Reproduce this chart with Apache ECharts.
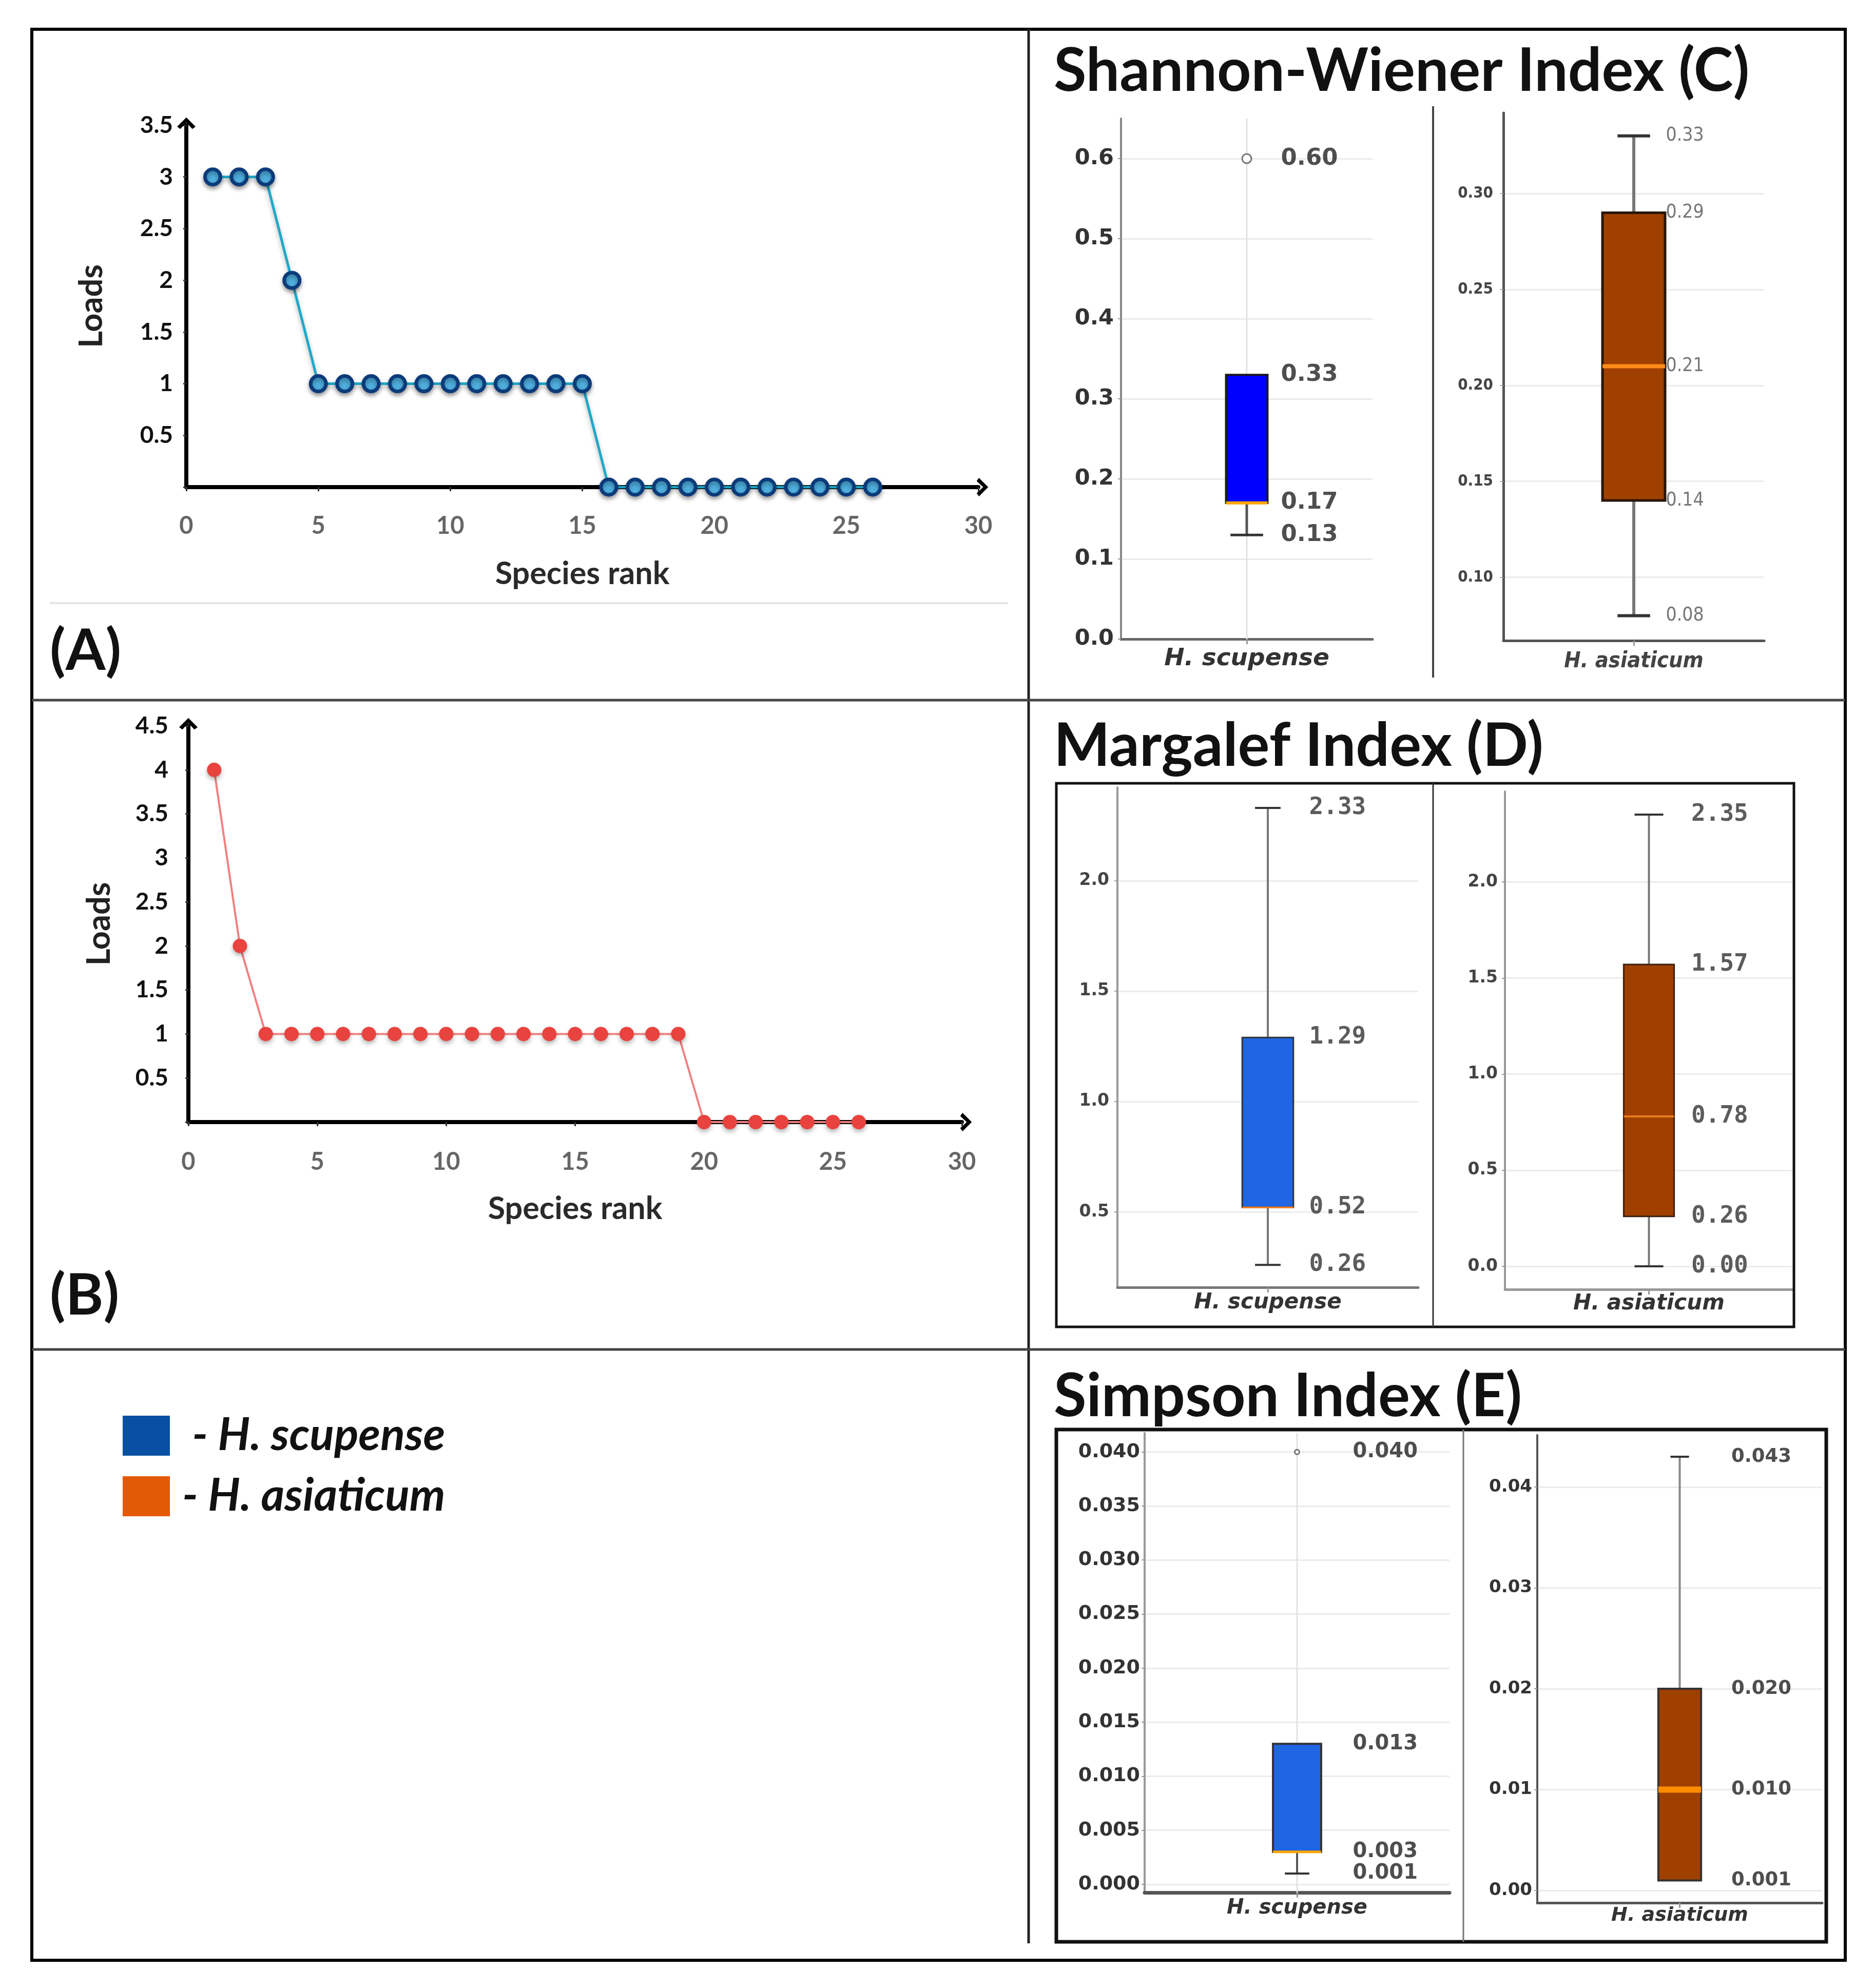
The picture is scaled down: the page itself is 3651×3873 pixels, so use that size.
<!DOCTYPE html>
<html><head><meta charset="utf-8">
<script src="https://cdn.jsdelivr.net/npm/echarts@6/dist/echarts.min.js"></script>
<style>html,body{margin:0;padding:0;background:#fff}#c{width:3651px;height:3873px}</style>
</head><body><div id="c"></div><script>
// ---------- data ----------
const rankA = [1,2,3,4,5,6,7,8,9,10,11,12,13,14,15,16,17,18,19,20,21,22,23,24,25,26];
const loadsA = [3,3,3,2,1,1,1,1,1,1,1,1,1,1,1,0,0,0,0,0,0,0,0,0,0,0];
const rankB = [1,2,3,4,5,6,7,8,9,10,11,12,13,14,15,16,17,18,19,20,21,22,23,24,25,26];
const loadsB = [4,2,1,1,1,1,1,1,1,1,1,1,1,1,1,1,1,1,1,0,0,0,0,0,0,0];
const speciesNames = ['H. scupense', 'H. asiaticum'];
// box stats: [lower whisker, Q1, median, Q3, upper whisker]
const shannonScupense = [0.13, 0.17, 0.17, 0.33, 0.33];
const shannonScupenseOutliers = [0.60];
const shannonAsiaticum = [0.08, 0.14, 0.21, 0.29, 0.33];
const margalefScupense = [0.26, 0.52, 0.52, 1.29, 2.33];
const margalefAsiaticum = [0.00, 0.26, 0.78, 1.57, 2.35];
const simpsonScupense = [0.001, 0.003, 0.003, 0.013, 0.013];
const simpsonScupenseOutliers = [0.040];
const simpsonAsiaticum = [0.001, 0.001, 0.010, 0.020, 0.043];
// annotated values
const shannonScupenseNotes = [0.60, 0.33, 0.17, 0.13];
const shannonAsiaticumNotes = [0.33, 0.29, 0.21, 0.14, 0.08];
const margalefScupenseNotes = [2.33, 1.29, 0.52, 0.26];
const margalefAsiaticumNotes = [2.35, 1.57, 0.78, 0.26, 0.00];
const simpsonScupenseNotes = [0.040, 0.013, 0.003, 0.001];
const simpsonAsiaticumNotes = [0.043, 0.020, 0.010, 0.001];
// tick labels
const shannonScupenseTicks = [0, 0.1, 0.2, 0.3, 0.4, 0.5, 0.6];
const shannonAsiaticumTicks = [0.10, 0.15, 0.20, 0.25, 0.30];
const margalefScupenseTicks = [0.5, 1.0, 1.5, 2.0];
const margalefAsiaticumTicks = [0, 0.5, 1.0, 1.5, 2.0];
const simpsonScupenseTicks = [0, 0.005, 0.010, 0.015, 0.020, 0.025, 0.030, 0.035, 0.040];
const simpsonAsiaticumTicks = [0, 0.01, 0.02, 0.03, 0.04];

// ---------- layout / style ----------
const ARROW = 'path://M10,0 L20,10 L16.5,12.5 L10,5.5 L3.5,12.5 L0,10 Z';
const DJ = 'DejaVu Sans';
const boxPanels = [
  {grid:{left:2184, top:231, width:490, height:1014}, min:0, max:0.65, ticks:shannonScupenseTicks, tickDec:1,
   stats:shannonScupense, outliers:shannonScupenseOutliers, notes:shannonScupenseNotes, noteDec:2, sp:0,
   boxFrac:0.165, capFrac:0.13, fill:'#0000ff', stroke:'#1a1a1a', strokeW:4, median:'#ffa500', medianW:6,
   whisker:'#555', whiskerW:5, vgrid:true, outR:18,
   tickFont:{fontFamily:DJ, fontWeight:'bold', fontSize:43, color:'#333'}, tickMargin:14,
   noteFont:{fontFamily:DJ, fontWeight:'bold', fontSize:45, color:'#222'}, noteDist:66,
   catFont:{fontFamily:DJ, fontWeight:'bold', fontStyle:'italic', fontSize:47, color:'#333'}, catMargin:15,
   yLine:'#888', yLineW:4, xLine:'#666', xLineW:5},
  {grid:{left:2929, top:220, width:508, height:1028}, min:0.067, max:0.342, ticks:shannonAsiaticumTicks, tickDec:2,
   stats:shannonAsiaticum, outliers:[], notes:shannonAsiaticumNotes, noteDec:2, sp:1,
   boxFrac:0.24, capFrac:0.125, fill:'#a04000', stroke:'#2a1608', strokeW:5, median:'#ff8c1a', medianW:8,
   whisker:'#777', whiskerW:6, vgrid:false, outR:0,
   tickFont:{fontFamily:'DejaVu Sans Condensed', fontWeight:'bold', fontSize:31, color:'#444'}, tickMargin:20,
   noteFont:{fontFamily:'DejaVu Sans Condensed', fontSize:37, color:'#555'}, noteDist:62,
   catFont:{fontFamily:'DejaVu Sans Condensed', fontWeight:'bold', fontStyle:'italic', fontSize:43, color:'#444'}, catMargin:19,
   yLine:'#555', yLineW:5, xLine:'#555', xLineW:5},
  {grid:{left:2177, top:1534, width:586, height:974}, min:0.158, max:2.423, ticks:margalefScupenseTicks, tickDec:1,
   stats:margalefScupense, outliers:[], notes:margalefScupenseNotes, noteDec:2, sp:0,
   boxFrac:0.17, capFrac:0.085, fill:'#1f66e5', stroke:'#333', strokeW:3, median:'#ff7f0e', medianW:3,
   whisker:'#777', whiskerW:4, vgrid:false, outR:0,
   tickFont:{fontFamily:DJ, fontWeight:'bold', fontSize:33, color:'#444'}, tickMargin:16,
   noteFont:{fontFamily:'DejaVu Sans Mono', fontWeight:'bold', fontSize:46, color:'#333'}, noteDist:80,
   catFont:{fontFamily:DJ, fontWeight:'bold', fontStyle:'italic', fontSize:42, color:'#333'}, catMargin:9,
   yLine:'#999', yLineW:4, xLine:'#777', xLineW:5},
  {grid:{left:2932, top:1542, width:561, height:970}, min:-0.12, max:2.47, ticks:margalefAsiaticumTicks, tickDec:1,
   stats:margalefAsiaticum, outliers:[], notes:margalefAsiaticumNotes, noteDec:2, sp:1,
   boxFrac:0.175, capFrac:0.1, fill:'#a04000', stroke:'#3a2010', strokeW:3, median:'#e87a1e', medianW:4,
   whisker:'#777', whiskerW:4, vgrid:false, outR:0,
   tickFont:{fontFamily:DJ, fontWeight:'bold', fontSize:33, color:'#444'}, tickMargin:14,
   noteFont:{fontFamily:'DejaVu Sans Mono', fontWeight:'bold', fontSize:46, color:'#333'}, noteDist:82,
   catFont:{fontFamily:DJ, fontWeight:'bold', fontStyle:'italic', fontSize:42, color:'#333'}, catMargin:7,
   yLine:'#999', yLineW:4, xLine:'#999', xLineW:5},
  {grid:{left:2230, top:2792, width:594, height:895}, min:-0.00076, max:0.04174, ticks:simpsonScupenseTicks, tickDec:3,
   stats:simpsonScupense, outliers:simpsonScupenseOutliers, notes:simpsonScupenseNotes, noteDec:3, sp:0,
   boxFrac:0.158, capFrac:0.08, fill:'#1f66e5', stroke:'#333', strokeW:4, median:'#ffa500', medianW:5,
   whisker:'#555', whiskerW:4, vgrid:true, outR:9,
   tickFont:{fontFamily:DJ, fontWeight:'bold', fontSize:38, color:'#333'}, tickMargin:9,
   noteFont:{fontFamily:DJ, fontWeight:'bold', fontSize:40, color:'#222'}, noteDist:108,
   catFont:{fontFamily:DJ, fontWeight:'bold', fontStyle:'italic', fontSize:40, color:'#333'}, catMargin:11,
   yLine:'#999', yLineW:4, xLine:'#555', xLineW:7},
  {grid:{left:2995, top:2796, width:555, height:911}, min:-0.00122, max:0.04514, ticks:simpsonAsiaticumTicks, tickDec:2,
   stats:simpsonAsiaticum, outliers:[], notes:simpsonAsiaticumNotes, noteDec:3, sp:1,
   boxFrac:0.15, capFrac:0.065, fill:'#a04000', stroke:'#333', strokeW:4, median:'#ff8c00', medianW:12,
   whisker:'#888', whiskerW:4, vgrid:false, outR:0,
   tickFont:{fontFamily:DJ, fontWeight:'bold', fontSize:34, color:'#333'}, tickMargin:10,
   noteFont:{fontFamily:DJ, fontWeight:'bold', fontSize:37, color:'#222'}, noteDist:100,
   catFont:{fontFamily:DJ, fontWeight:'bold', fontStyle:'italic', fontSize:38, color:'#333'}, catMargin:6,
   yLine:'#555', yLineW:4, xLine:'#555', xLineW:5}
];
const legendColors = ['#0a50a2', '#e25a05'];

// ---------- build ----------
const grids = [], xAxes = [], yAxes = [], series = [];
function lineAxes(gi, ymax, xMargin, yMargin, nameGapY) {
  xAxes.push({type:'value', gridIndex:gi, min:0, max:30, interval:5,
    name:'Species rank', nameLocation:'middle', nameGap:139,
    nameTextStyle:{fontFamily:'Lato', fontWeight:'bold', fontSize:61, color:'#2a2a2a'},
    axisLine:{show:true, onZero:false, symbol:['none', ARROW], symbolSize:[36,26], symbolOffset:[0,8], lineStyle:{color:'#000', width:8}},
    axisTick:{show:true, length:8, lineStyle:{color:'#333', width:3}},
    axisLabel:{show:true, margin:xMargin, fontFamily:'Lato', fontWeight:'bold', fontSize:47, color:'#666'},
    splitLine:{show:false}});
  yAxes.push({type:'value', gridIndex:gi, min:0, max:ymax, interval:0.5,
    name:'Loads', nameLocation:'middle', nameRotate:90, nameGap:nameGapY,
    nameTextStyle:{fontFamily:'Lato', fontWeight:'bold', fontSize:63, color:'#222'},
    axisLine:{show:true, onZero:false, symbol:['none', ARROW], symbolSize:[36,26], symbolOffset:[0,4], lineStyle:{color:'#000', width:8}},
    axisTick:{show:true, length:6, lineStyle:{color:'#333', width:3}},
    axisLabel:{show:true, margin:yMargin, fontFamily:'Lato', fontWeight:'bold', fontSize:46, color:'#111',
      formatter: v => v === 0 ? '' : String(v)},
    splitLine:{show:false}});
}
grids.push({left:363, top:244, width:1543, height:705});
lineAxes(0, 3.5, 52, 26, 153);
series.push({type:'line', xAxisIndex:0, yAxisIndex:0, data: rankA.map((r,i)=>[r, loadsA[i]]),
  symbol:'circle', symbolSize:30, showAllSymbol:true, clip:false, z:5,
  lineStyle:{color:'#1fa8c8', width:5, shadowBlur:8, shadowColor:'rgba(0,0,0,0.3)', shadowOffsetY:5},
  itemStyle:{color:'#4fb0e0', borderColor:'#0c3b7a', borderWidth:7, shadowBlur:8, shadowColor:'rgba(0,0,0,0.35)', shadowOffsetY:5}});
grids.push({left:367, top:1414, width:1507, height:772});
lineAxes(1, 4.5, 54, 39, 142);
series.push({type:'line', xAxisIndex:1, yAxisIndex:1, data: rankB.map((r,i)=>[r, loadsB[i]]),
  symbol:'circle', symbolSize:28, showAllSymbol:true, clip:false, z:5,
  lineStyle:{color:'#f08080', width:4},
  itemStyle:{color:'#e8433f', borderWidth:0, shadowBlur:8, shadowColor:'rgba(0,0,0,0.3)', shadowOffsetY:5}});

function boxRender(p) {
  return function(params, api) {
    const cs = params.coordSys;
    const xi = api.value(0);
    const lo = api.value(1), q1 = api.value(2), med = api.value(3), q3 = api.value(4), hi = api.value(5);
    const cx = api.coord([xi, q1])[0];
    const band = api.size([1, 0])[0];
    const bw = band * p.boxFrac, cw = band * p.capFrac;
    const y = v => api.coord([xi, v])[1];
    const ch = [];
    if (p.vgrid) ch.push({type:'line', shape:{x1:cx, y1:cs.y, x2:cx, y2:cs.y + cs.height}, style:{stroke:'#e2e2e2', lineWidth:3}});
    const ws = {stroke:p.whisker, lineWidth:p.whiskerW};
    if (lo < q1) {
      ch.push({type:'line', shape:{x1:cx, y1:y(lo), x2:cx, y2:y(q1)}, style:ws});
      ch.push({type:'line', shape:{x1:cx - cw/2, y1:y(lo), x2:cx + cw/2, y2:y(lo)}, style:{stroke:'#333', lineWidth:p.whiskerW}});
    }
    if (hi > q3) {
      ch.push({type:'line', shape:{x1:cx, y1:y(hi), x2:cx, y2:y(q3)}, style:ws});
      ch.push({type:'line', shape:{x1:cx - cw/2, y1:y(hi), x2:cx + cw/2, y2:y(hi)}, style:{stroke:'#333', lineWidth:p.whiskerW}});
    }
    ch.push({type:'rect', shape:{x:cx - bw/2, y:y(q3), width:bw, height:y(q1) - y(q3)}, style:{fill:p.fill, stroke:p.stroke, lineWidth:p.strokeW}});
    ch.push({type:'line', shape:{x1:cx - bw/2, y1:y(med), x2:cx + bw/2, y2:y(med)}, style:{stroke:p.median, lineWidth:p.medianW}});
    return {type:'group', children:ch};
  };
}

boxPanels.forEach((p, k) => {
  const gi = k + 2;
  grids.push(Object.assign({}, p.grid));
  xAxes.push({type:'category', gridIndex:gi, data:[speciesNames[p.sp]],
    axisLine:{show:true, onZero:false, lineStyle:{color:p.xLine, width:p.xLineW}},
    axisTick:{show:true, alignWithLabel:true, length:10, lineStyle:{color:'#999', width:3}},
    axisLabel:Object.assign({show:true, margin:p.catMargin}, p.catFont),
    splitLine:{show:false}});
  yAxes.push({type:'value', gridIndex:gi, min:p.min, max:p.max,
    axisLine:{show:true, onZero:false, lineStyle:{color:p.yLine, width:p.yLineW}},
    axisTick:{show:true, customValues:p.ticks, length:6, lineStyle:{color:'#999', width:2}},
    axisLabel:Object.assign({show:true, customValues:p.ticks, margin:p.tickMargin, formatter: v => Number(v).toFixed(p.tickDec)}, p.tickFont),
    splitLine:{show:true, lineStyle:{color:'#ebebeb', width:3}}});
  series.push({type:'custom', name:speciesNames[p.sp], xAxisIndex:gi, yAxisIndex:gi, clip:false, z:3,
    itemStyle:{color:legendColors[p.sp]},
    data:[[0].concat(p.stats)], encode:{x:0, y:[1,2,3,4,5]}, renderItem: boxRender(p)});
  if (p.outliers.length) {
    series.push({type:'scatter', xAxisIndex:gi, yAxisIndex:gi, silent:true, z:4,
      data:p.outliers.map(v => [0, v]), symbol:'circle', symbolSize:p.outR,
      itemStyle:{color:'#fff', borderColor:'#555', borderWidth:3}});
  }
  series.push({type:'scatter', xAxisIndex:gi, yAxisIndex:gi, silent:true, z:6,
    data:p.notes.map(v => [0, v]), symbolSize:1, itemStyle:{color:'rgba(0,0,0,0)'},
    label:Object.assign({show:true, position:'right', distance:p.noteDist,
      formatter: q => Number(q.value[1]).toFixed(p.noteDec)}, p.noteFont)});
});

const T = (text, x, y, size) => ({type:'text', x:x, y:y, z:10, silent:true,
  style:{text:text, fontFamily:'Lato', fontWeight:'bold', fontSize:size, fill:'#111', verticalAlign:'middle', align:'left'}});
const L = (x1, y1, x2, y2, c, w) => ({type:'line', z:10, silent:true, shape:{x1, y1, x2, y2}, style:{stroke:c, lineWidth:w}});
const R = (x, y, w, h, c, lw) => ({type:'rect', z:10, silent:true, shape:{x, y, width:w, height:h}, style:{fill:'none', stroke:c, lineWidth:lw}});

const option = {
  animation:false,
  backgroundColor:'#fff',
  grid:grids, xAxis:xAxes, yAxis:yAxes, series:series,
  legend:{show:true, orient:'vertical', left:234, top:2748, itemWidth:92, itemHeight:78, itemGap:30,
    icon:'rect', selectedMode:false,
    data:[{name:speciesNames[0], itemStyle:{color:legendColors[0]}}, {name:speciesNames[1], itemStyle:{color:legendColors[1]}}],
    formatter: n => (n === speciesNames[0] ? '  - ' : ' - ') + n,
    textStyle:{fontFamily:'Lato', fontSize:88, fontWeight:'bold', fontStyle:'italic', color:'#111'}},
  graphic:[
    R(62, 57, 3533, 3762, '#000', 6),
    L(2004, 57, 2004, 3786, '#222', 5),
    L(62, 1364, 3595, 1364, '#444', 5),
    L(62, 2629, 3595, 2629, '#444', 5),
    L(97, 1175, 1964, 1175, '#e6e6e6', 4),
    L(2792, 207, 2792, 1320, '#444', 4),
    R(2058, 1526, 1437, 1059, '#111', 5),
    L(2792, 1526, 2792, 2585, '#333', 3),
    R(2058, 2785, 1500, 998, '#111', 7),
    L(2851, 2785, 2851, 3783, '#777', 3),
    T('Shannon-Wiener Index (C)', 2053, 140, 116),
    T('Margalef Index (D)', 2053, 1455, 116),
    T('Simpson Index (E)', 2053, 2722, 116),
    T('(A)', 97, 1269, 112),
    T('(B)', 97, 2525, 112)
  ]
};
const chart = echarts.init(document.getElementById('c'));
chart.setOption(option);
</script></body></html>
